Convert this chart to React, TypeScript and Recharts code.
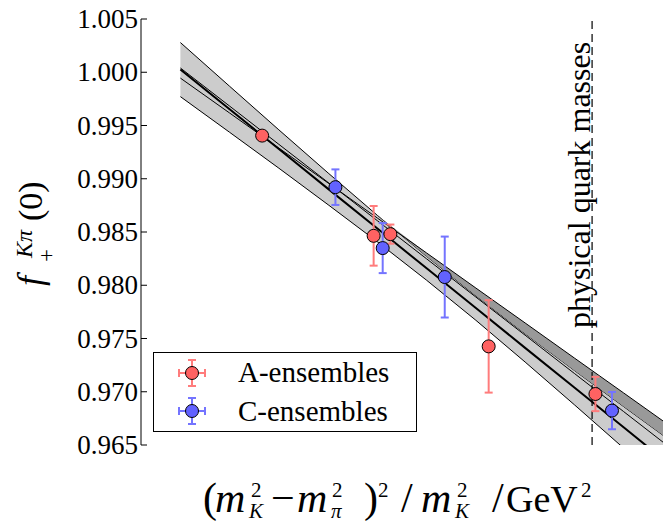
import React from "react";
import { ComposedChart, Area, Line, Scatter, ErrorBar, XAxis, YAxis, ReferenceLine } from "recharts";

// DejaVu Serif is not installed here, Liberation Serif is the closest serif face
const TXT = { fontFamily: "Liberation Serif" };
const IT = { fontFamily: "Liberation Serif", fontStyle: "italic" };

// fit curves at these x positions
const fitX = [0, 0.025, 0.05, 0.075, 0.1, 0.125, 0.15, 0.175, 0.2, 0.225, 0.25];
const bandATop = [1.00279, 0.99868, 0.99459, 0.99054, 0.98656, 0.98271, 0.97901, 0.97545, 0.972, 0.96861, 0.96524];
const bandABottom = [0.99771, 0.99436, 0.99099, 0.98756, 0.98408, 0.98047, 0.97671, 0.97279, 0.96878, 0.96471, 0.96062];
// upper edge of the second (darker) band, which only shows above the light band
const bandBTop = [0.99945, 0.99617, 0.99288, 0.9896, 0.98631, 0.98303, 0.97974, 0.97646, 0.97317, 0.96989, 0.9666];
const stripTop = [1.00279, 0.99868, 0.99459, 0.99054, 0.98656, 0.98303, 0.97974, 0.97646, 0.97317, 0.96989, 0.9666];
const fitMain = [1.00025, 0.99652, 0.99279, 0.98905, 0.98532, 0.98159, 0.97786, 0.97412, 0.97039, 0.96666, 0.96293];
const fitUpper = [1.0004, 0.99682, 0.99323, 0.98965, 0.98606, 0.98248, 0.97889, 0.97531, 0.97172, 0.96814, 0.96455];

// A-ensembles
const aX = [0.0415, 0.0981, 0.1066, 0.1565, 0.2107];
const aY = [0.99405, 0.98464, 0.9848, 0.97426, 0.96979];
const aErr = [0.0003, 0.0028, 0.0009, 0.00434, 0.00161];
// C-ensembles
const cX = [0.0787, 0.1027, 0.1342, 0.2191];
const cY = [0.98921, 0.98349, 0.98077, 0.96823];
const cErr = [0.00167, 0.00235, 0.0038, 0.00175];

const xTicks = [0, 0.05, 0.1, 0.15, 0.2];
const yTicks = [0.965, 0.97, 0.975, 0.98, 0.985, 0.99, 0.995, 1.0, 1.005];
const physX = 0.209;

const RED = "#ff6262";
const RED_BAR = "#ff7c7c";
const BLUE = "#6262ff";
const BLUE_BAR = "#7474ff";

const fitData = fitX.map((x, i) => ({
  x,
  bandA: [bandABottom[i], bandATop[i]],
  strip: [bandATop[i], stripTop[i]],
  bTop: bandBTop[i],
  main: fitMain[i],
  upper: fitUpper[i],
}));
const aData = aX.map((x, i) => ({ x, y: aY[i], err: aErr[i] }));
const cData = cX.map((x, i) => ({ x, y: cY[i], err: cErr[i] }));

const BottomTick = (p: any) => (
  <g>
    <line x1={p.x} y1={p.y} x2={p.x} y2={p.y - 6} stroke="#000" />
    <text x={p.x} y={p.y + 23} textAnchor="middle" fontSize={27} style={TXT} fill="#000">
      {p.payload.value.toFixed(2)}
    </text>
  </g>
);
const TopTick = (p: any) => <line x1={p.x} y1={p.y} x2={p.x} y2={p.y + 6} stroke="#000" />;
const LeftTick = (p: any) => (
  <g>
    <line x1={p.x} y1={p.y} x2={p.x + 6} y2={p.y} stroke="#000" />
    <text x={p.x - 3} y={p.y + 9} textAnchor="end" fontSize={27} style={TXT} fill="#000">
      {p.payload.value.toFixed(3)}
    </text>
  </g>
);

const dot = (fill: string) => (p: any) => (
  <circle cx={p.cx} cy={p.cy} r={6.5} fill={fill} stroke="#000" strokeWidth={1} />
);

const PhysLabel = (p: any) => {
  const x = p.viewBox?.x ?? 592;
  return (
    <text transform={`translate(${x - 2},328) rotate(-90)`} fontSize={32} style={TXT} fill="#000">
      physical quark masses
    </text>
  );
};

const LegendMark = ({ x, y, bar, fill }: any) => (
  <g>
    <line x1={x - 13} y1={y} x2={x + 13} y2={y} stroke={bar} strokeWidth={2} />
    <line x1={x} y1={y - 13} x2={x} y2={y + 13} stroke={bar} strokeWidth={2} />
    <line x1={x - 13} y1={y - 4} x2={x - 13} y2={y + 4} stroke={bar} strokeWidth={2} />
    <line x1={x + 13} y1={y - 4} x2={x + 13} y2={y + 4} stroke={bar} strokeWidth={2} />
    <line x1={x - 4} y1={y - 13} x2={x + 4} y2={y - 13} stroke={bar} strokeWidth={2} />
    <line x1={x - 4} y1={y + 13} x2={x + 4} y2={y + 13} stroke={bar} strokeWidth={2} />
    <circle cx={x} cy={y} r={6.5} fill={fill} stroke="#000" />
  </g>
);

// pieces of the x-axis label: main baseline 512, superscripts 497, subscripts 518
const XLabel = () => (
  <g fill="#000">
    <text x={203} y={512} fontSize={42} style={TXT}>(</text>
    <text x={215} y={512} fontSize={42} style={IT}>m</text>
    <text x={251} y={497} fontSize={21} style={TXT}>2</text>
    <text x={249} y={518} fontSize={21} style={IT}>K</text>
    <text x={271} y={512} fontSize={42} style={TXT}>−</text>
    <text x={297} y={512} fontSize={42} style={IT}>m</text>
    <text x={332} y={497} fontSize={21} style={TXT}>2</text>
    <text x={331} y={518} fontSize={21} style={IT}>π</text>
    <text x={364} y={512} fontSize={42} style={TXT}>)</text>
    <text x={378} y={497} fontSize={21} style={TXT}>2</text>
    <text x={401} y={512} fontSize={42} style={TXT}>/</text>
    <text x={421} y={512} fontSize={42} style={IT}>m</text>
    <text x={457} y={497} fontSize={21} style={TXT}>2</text>
    <text x={455} y={518} fontSize={21} style={IT}>K</text>
    <text x={492} y={512} fontSize={42} style={TXT}>/</text>
    <text x={506} y={512} fontSize={38} style={TXT}>GeV</text>
    <text x={581} y={497} fontSize={21} style={TXT}>2</text>
  </g>
);

// pieces of the rotated y-axis label
const YLabel = () => (
  <g fill="#000">
    <text transform="translate(42,286) rotate(-90)" fontSize={36} style={IT}>f</text>
    <text transform="translate(32,258) rotate(-90)" fontSize={24} style={IT}>Kπ</text>
    <text transform="translate(54,262) rotate(-90)" fontSize={23} style={TXT}>+</text>
    <text transform="translate(42,221) rotate(-90)" fontSize={34} style={TXT}>(0)</text>
  </g>
);

export default function App() {
  return (
    <div style={{ position: "absolute", left: 0, top: 0, width: 663, height: 522, overflow: "hidden", background: "#fff" }}>
      <ComposedChart width={663} height={522} data={fitData} margin={{ top: 19, right: 0, bottom: 77, left: 0 }}>
        <XAxis
          xAxisId={0}
          dataKey="x"
          type="number"
          domain={[-0.02, 0.245]}
          allowDataOverflow
          ticks={xTicks}
          height={0}
          tickSize={0}
          tickMargin={0}
          tickLine={false}
          tick={BottomTick}
          axisLine={{ stroke: "#000" }}
          interval={0}
        />
        <XAxis
          xAxisId="top"
          orientation="top"
          dataKey="x"
          type="number"
          domain={[-0.02, 0.245]}
          allowDataOverflow
          ticks={xTicks}
          height={0}
          tickSize={0}
          tickMargin={0}
          tickLine={false}
          tick={TopTick}
          axisLine={{ stroke: "#000" }}
          interval={0}
        />
        <YAxis
          type="number"
          domain={[0.965, 1.005]}
          allowDataOverflow
          ticks={yTicks}
          width={141}
          tickSize={0}
          tickMargin={0}
          tickLine={false}
          tick={LeftTick}
          axisLine={{ stroke: "#000" }}
          interval={0}
        />
        <Area dataKey="bandA" type="linear" fill="#cccccc" fillOpacity={1} stroke="#000" strokeWidth={1} activeDot={false} isAnimationActive={false} />
        <Area dataKey="strip" type="linear" fill="#999999" fillOpacity={1} stroke="none" activeDot={false} isAnimationActive={false} />
        <Line dataKey="bTop" type="linear" stroke="#000" strokeWidth={1} dot={false} activeDot={false} isAnimationActive={false} />
        <Line dataKey="upper" type="linear" stroke="#000" strokeWidth={1} dot={false} activeDot={false} isAnimationActive={false} />
        <Line dataKey="main" type="linear" stroke="#000" strokeWidth={2} dot={false} activeDot={false} isAnimationActive={false} />
        <ReferenceLine x={physX} stroke="#000" strokeWidth={1.2} strokeDasharray="8 5" label={<PhysLabel />} />
        <Scatter data={aData} dataKey="y" shape={dot(RED)} isAnimationActive={false}>
          <ErrorBar dataKey="err" direction="y" width={4} stroke={RED_BAR} strokeWidth={2} />
        </Scatter>
        <Scatter data={cData} dataKey="y" shape={dot(BLUE)} isAnimationActive={false}>
          <ErrorBar dataKey="err" direction="y" width={4} stroke={BLUE_BAR} strokeWidth={2} />
        </Scatter>
      </ComposedChart>
      <svg width={663} height={522} style={{ position: "absolute", left: 0, top: 0, pointerEvents: "none" }}>
        <rect x={153.5} y={352.5} width={263} height={79} fill="#fff" stroke="#000" />
        <LegendMark x={192} y={373} bar={RED_BAR} fill={RED} />
        <LegendMark x={192} y={411} bar={BLUE_BAR} fill={BLUE} />
        <text x={238} y={382} fontSize={29} style={TXT}>A-ensembles</text>
        <text x={238} y={421} fontSize={29} style={TXT}>C-ensembles</text>
        <XLabel />
        <YLabel />
      </svg>
    </div>
  );
}
